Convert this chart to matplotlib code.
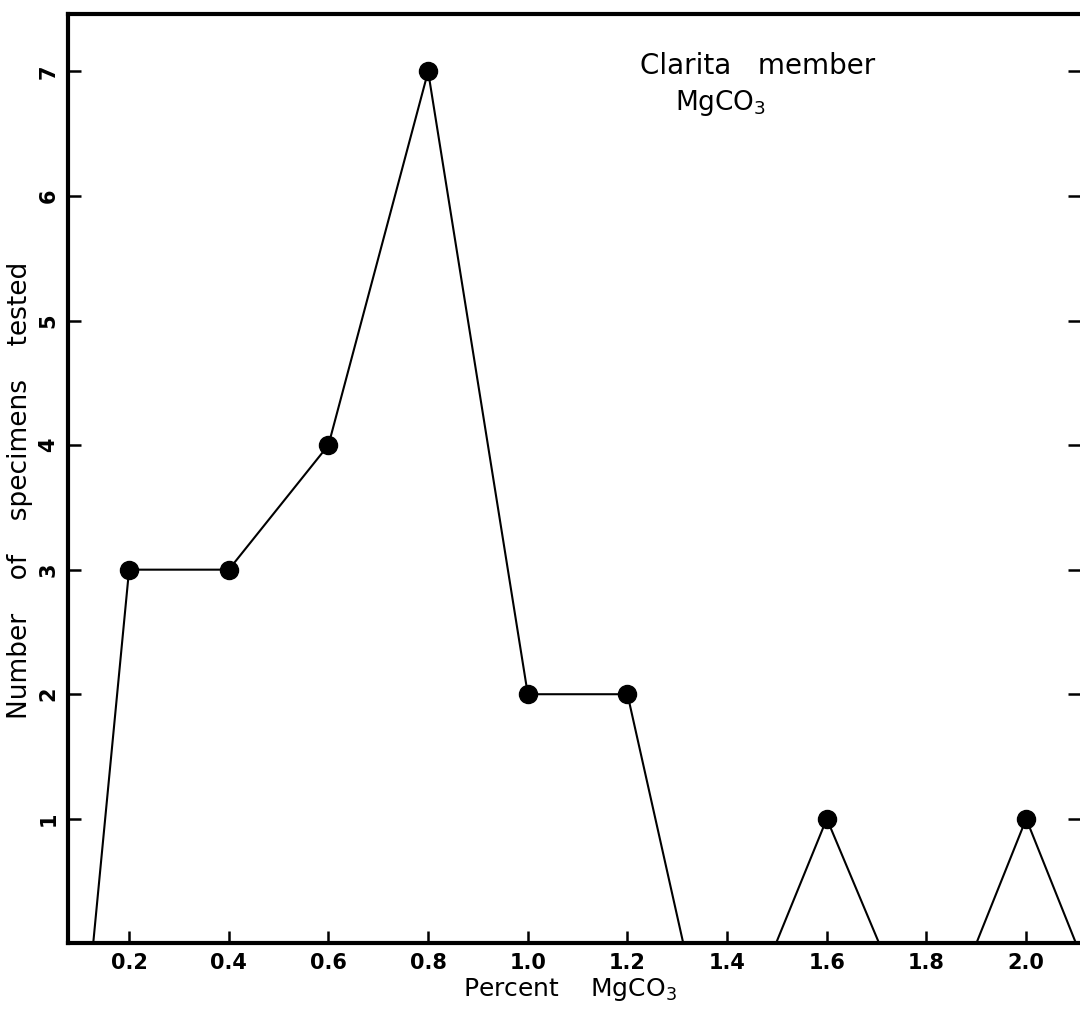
import matplotlib.pyplot as plt

# frequency polygon, Clarita member MgCO3
pct = [0.2, 0.4, 0.6, 0.8, 1.0, 1.2, 1.6, 2.0]
count = [3, 3, 4, 7, 2, 2, 1, 1]

# line segments (closing to zero between classes)
seg1_x = [0.128, 0.2, 0.4, 0.6, 0.8, 1.0, 1.2, 1.312]
seg1_y = [0, 3, 3, 4, 7, 2, 2, 0]
seg2_x = [1.498, 1.6, 1.705]
seg2_y = [0, 1, 0]
seg3_x = [1.9, 2.0, 2.1]
seg3_y = [0, 1, 0]

xticks = [0.2, 0.4, 0.6, 0.8, 1.0, 1.2, 1.4, 1.6, 1.8, 2.0]
xticklabels = ["0.2", "0.4", "0.6", "0.8", "1.0", "1.2", "1.4", "1.6", "1.8", "2.0"]
yticks = [1, 2, 3, 4, 5, 6, 7]

fig = plt.figure(figsize=(10.8, 10.1), dpi=100)
ax = fig.add_axes([0.063, 0.066, 0.937, 0.92])

for sx, sy in [(seg1_x, seg1_y), (seg2_x, seg2_y), (seg3_x, seg3_y)]:
    ax.plot(sx, sy, color="black", lw=1.5, clip_on=False)
ax.plot(pct, count, "o", color="black", ms=13, clip_on=False)

ax.set_xlim(0.0775, 2.108)
ax.set_ylim(0, 7.46)
ax.set_xticks(xticks)
ax.set_xticklabels(xticklabels)
ax.set_yticks(yticks)
ax.set_yticklabels([str(v) for v in yticks], rotation=90, va="center")

ax.spines["right"].set_visible(False)
for s in ["left", "bottom", "top"]:
    ax.spines[s].set_linewidth(3)
ax.tick_params(direction="in", length=9, width=1.8, labelsize=15, right=True)
ax.tick_params(axis="x", pad=7)
ax.tick_params(axis="y", pad=7)
for t in ax.get_xticklabels() + ax.get_yticklabels():
    t.set_fontweight("bold")

ax.set_xlabel("Percent    MgCO$_3$", fontsize=18)
ax.xaxis.set_label_coords(0.5 - 4 / 1012, -0.035)
ax.set_ylabel("Number    of    specimens    tested", fontsize=19)
ax.yaxis.set_label_coords(-0.035, 0.487)

ax.text(1.225, 7.04, "Clarita   member", fontsize=20, ha="left", va="center")
ax.text(1.295, 6.75, "MgCO$_3$", fontsize=19, ha="left", va="center")

plt.savefig("out.png", dpi=100)
